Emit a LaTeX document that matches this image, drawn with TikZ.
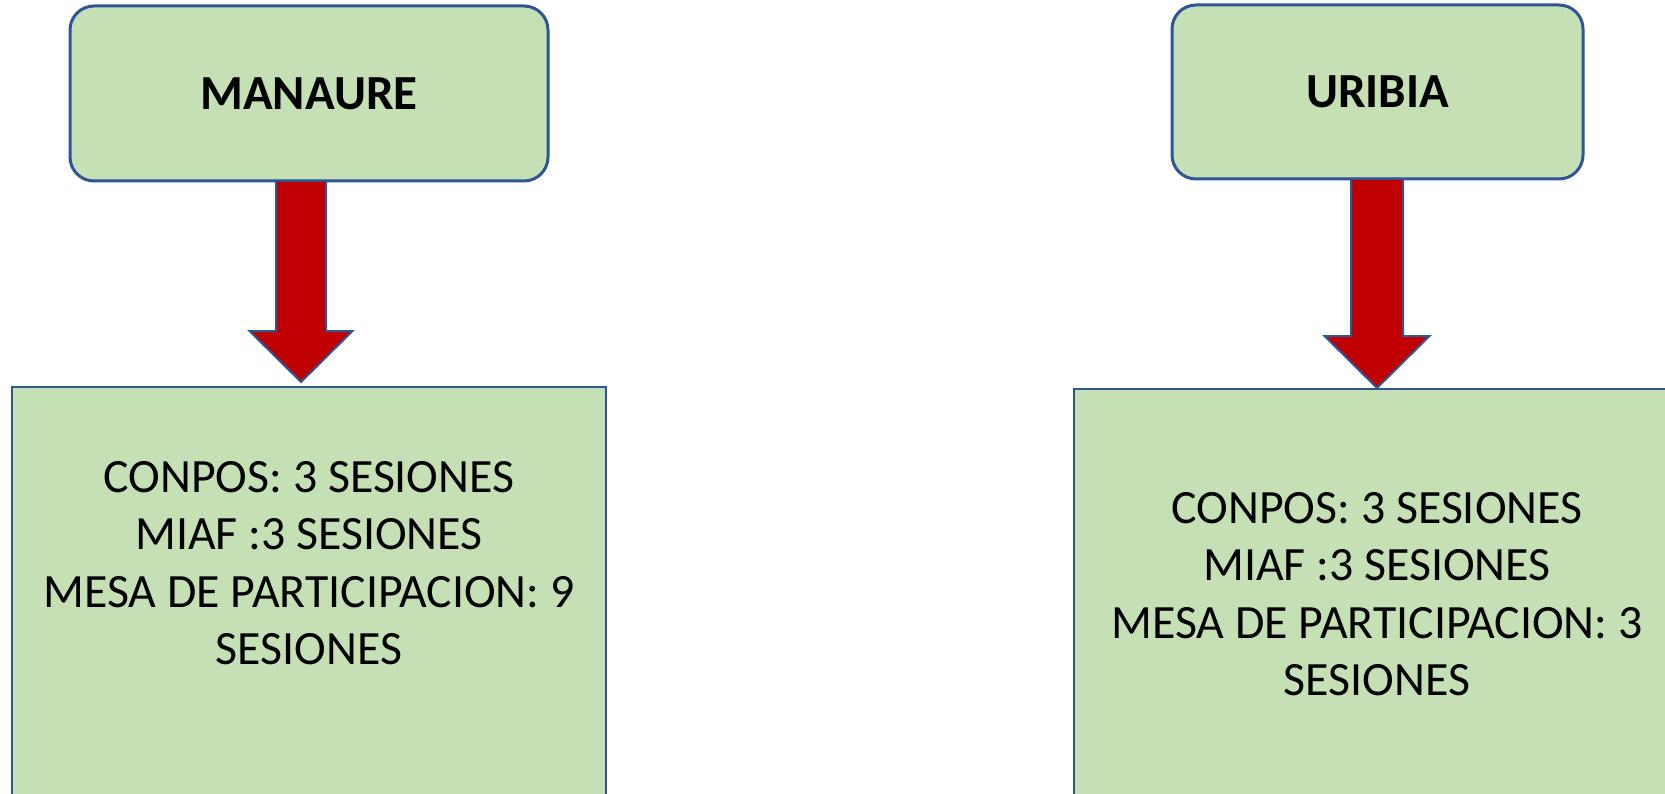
\documentclass[tikz,border=0pt]{standalone}
\usepackage{fontspec}
\setmainfont{Carlito}
\usetikzlibrary{calc}
\definecolor{boxfill}{HTML}{C5E0B4}
\definecolor{boxline}{HTML}{2F5597}
\definecolor{arrowred}{HTML}{C00000}
\begin{document}
\begin{tikzpicture}[x=1pt,y=-1pt,
  titlebox/.style={draw=boxline, line width=3pt, fill=boxfill, rounded corners=24pt, inner sep=0pt},
  infobox/.style={draw=boxline, line width=2pt, fill=boxfill, inner sep=0pt},
  titletext/.style={font=\fontsize{49}{58}\selectfont\bfseries},
  infotext/.style={font=\fontsize{47.8}{57.5}\selectfont, align=center, inner sep=0pt},
  blockarrow/.style={draw=boxline, line width=2pt, fill=arrowred, line join=miter}]
\useasboundingbox (0,0) rectangle (1665,794);
\clip (0,0) rectangle (1665,794);
\fill[white] (0,0) rectangle (1665,794);
% title boxes
\node[titlebox, minimum width=478pt, minimum height=175pt, titletext] (t1) at (309,93.5) {MANAURE};
\node[titlebox, minimum width=411pt, minimum height=174pt, titletext] (t2) at (1377.5,92) {URIBIA};
% info boxes
\node[infobox, minimum width=594pt, minimum height=613pt] (b1) at (309,693.5) {};
\node[infobox, minimum width=606pt, minimum height=611pt] (b2) at (1377,694.5) {};
\node[infotext] (l1) at (309,563) {CONPOS: 3 SESIONES\\MIAF :3 SESIONES\\MESA DE PARTICIPACION: 9\\SESIONES};
\node[infotext] (l2) at (1377,594) {CONPOS: 3 SESIONES\\MIAF :3 SESIONES\\MESA DE PARTICIPACION: 3\\SESIONES};
% block arrows
\coordinate (a1s) at (301,181);
\coordinate (a1e) at (301,382);
\coordinate (a2s) at (1377,179);
\coordinate (a2e) at (1377,388);
\draw[blockarrow] ($(a1s)+(-25,0)$) -- ($(a1s)+(25,0)$) -- ($(a1e)+(25,-51)$) -- ($(a1e)+(51.5,-51)$)
  -- (a1e) -- ($(a1e)+(-51.5,-51)$) -- ($(a1e)+(-25,-51)$) -- cycle;
\draw[blockarrow] ($(a2s)+(-26,0)$) -- ($(a2s)+(26,0)$) -- ($(a2e)+(26,-52)$) -- ($(a2e)+(52.5,-52)$)
  -- (a2e) -- ($(a2e)+(-52.5,-52)$) -- ($(a2e)+(-26,-52)$) -- cycle;
\end{tikzpicture}
\end{document}
